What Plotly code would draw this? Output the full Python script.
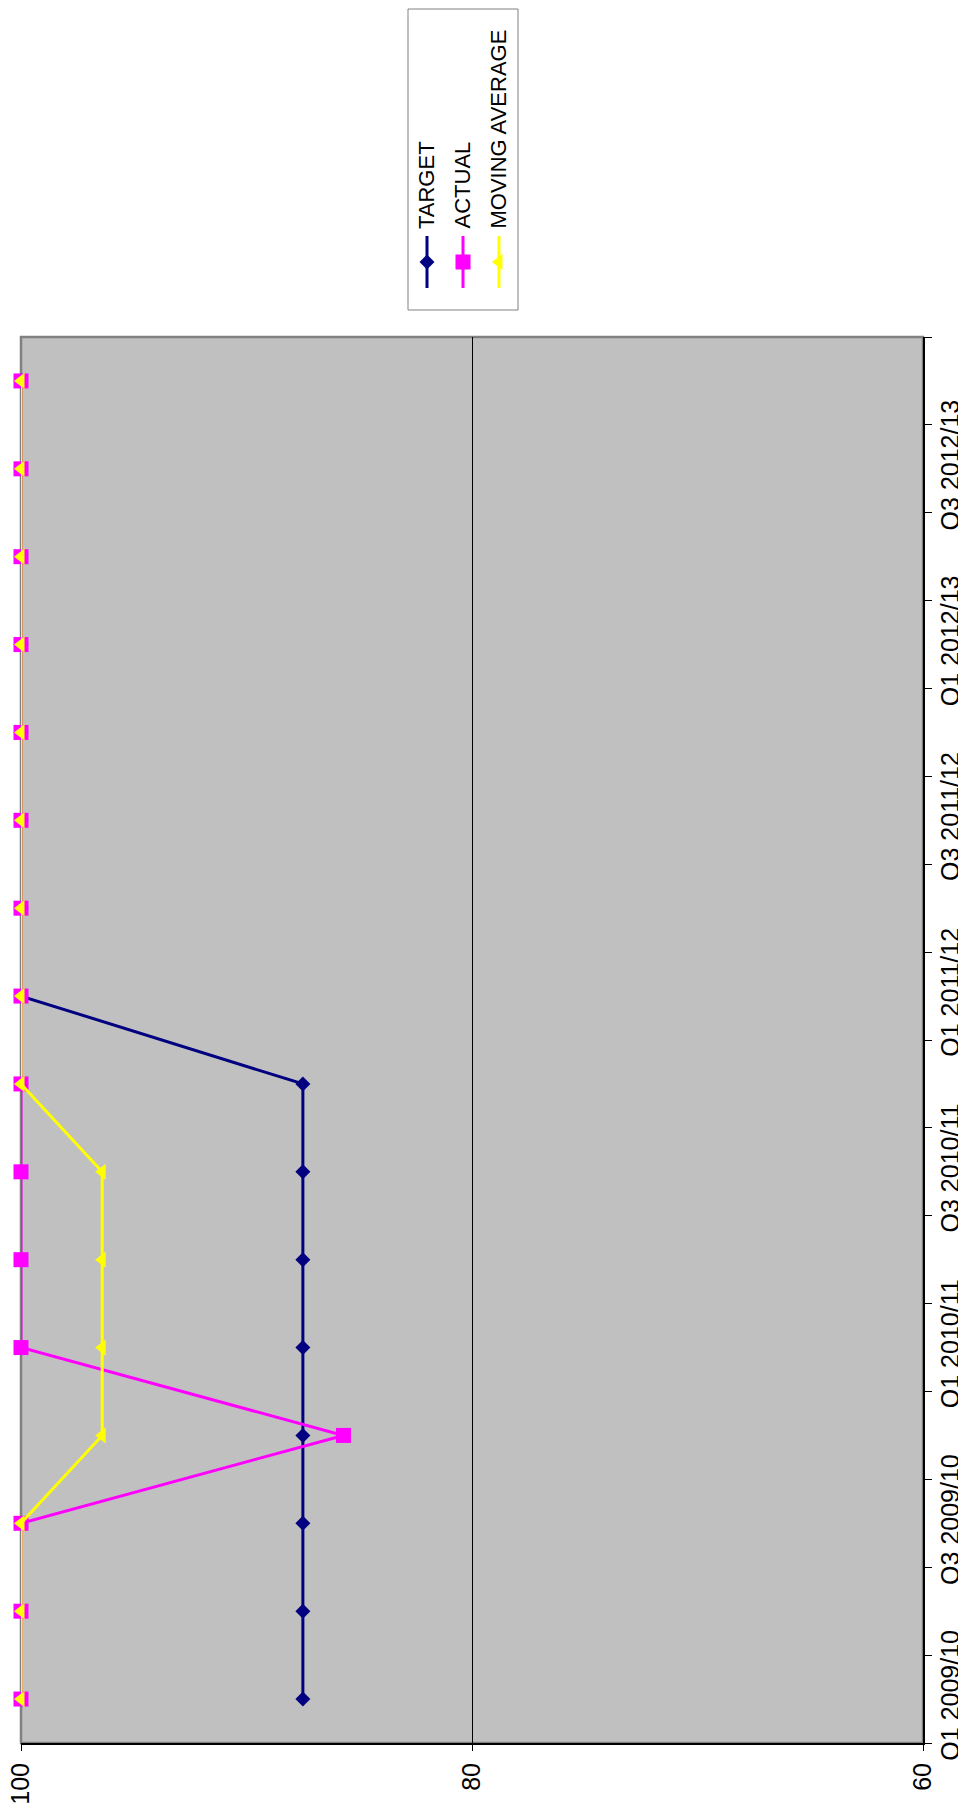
import plotly.graph_objects as go

# ---------------- data ----------------
categories = ["Q1 2009/10", "Q2 2009/10", "Q3 2009/10", "Q4 2009/10",
              "Q1 2010/11", "Q2 2010/11", "Q3 2010/11", "Q4 2010/11",
              "Q1 2011/12", "Q2 2011/12", "Q3 2011/12", "Q4 2011/12",
              "Q1 2012/13", "Q2 2012/13", "Q3 2012/13", "Q4 2012/13"]
shown_labels = ["Q1 2009/10", "Q3 2009/10", "Q1 2010/11", "Q3 2010/11",
                "Q1 2011/12", "Q3 2011/12", "Q1 2012/13", "Q3 2012/13"]
target = [87.5, 87.5, 87.5, 87.5, 87.5, 87.5, 87.5, 87.5,
          100, 100, 100, 100, 100, 100, 100, 100]
actual = [100, 100, 100, 85.7, 100, 100, 100, 100,
          100, 100, 100, 100, 100, 100, 100, 100]
moving_average = [100, 100, 100, 96.4, 96.4, 96.4, 96.4, 100,
                  100, 100, 100, 100, 100, 100, 100, 100]
value_ticks = [60, 80, 100]
grid_values = [80]
series_names = ["TARGET", "ACTUAL", "MOVING AVERAGE"]

# ---------------- style ----------------
OFF = 8                      # page body margin
W, H = 966 - 2 * OFF, 1805 - OFF
FONT = "Arial, Liberation Sans, sans-serif"
colors = ["#000080", "#FF00FF", "#FFFF00"]
symbols = ["diamond", "square", "triangle-left"]
msizes = [11.5, 15, 14]

# plot area in window pixels
PL, PR, PT, PB = 21, 923, 337, 1743

def px(x):
    return (x - OFF) / W

def py(y):
    return 1 - (y - OFF) / H

fig = go.Figure()
for vals, name, c, s, ms in zip([target, actual, moving_average], series_names, colors, symbols, msizes):
    fig.add_trace(go.Scatter(
        x=vals, y=categories, mode="lines+markers", name=name,
        line=dict(color=c, width=3),
        marker=dict(symbol=s, size=ms, color=c, line=dict(width=0)),
        cliponaxis=False, showlegend=False,
        xaxis="x", yaxis="y"))

# ---------- custom rotated legend ----------
LX0, LX1, LY0, LY1 = 408, 518, 9, 310
leg_x = [427, 463, 499]
for name, c, s, ms, lx in zip(series_names, colors, symbols, msizes, leg_x):
    fig.add_trace(go.Scatter(x=[lx, lx], y=[236, 288], mode="lines",
                             line=dict(color=c, width=3), showlegend=False,
                             xaxis="x2", yaxis="y2", hoverinfo="skip"))
    fig.add_trace(go.Scatter(x=[lx], y=[262], mode="markers",
                             marker=dict(symbol=s, size=ms, color=c, line=dict(width=0)),
                             showlegend=False, xaxis="x2", yaxis="y2",
                             hoverinfo="skip", cliponaxis=False))

annotations = []
for name, lx in zip(series_names, leg_x):
    annotations.append(dict(
        text=name, textangle=-90, xref="paper", yref="paper",
        x=px(lx - 1), y=py(231), xanchor="center", yanchor="bottom",
        showarrow=False, font=dict(family=FONT, size=22, color="black")))

shapes = [
    # gray plot-area border
    dict(type="rect", xref="x domain", yref="y domain", x0=0, x1=1, y0=0, y1=1,
         line=dict(color="#808080", width=2.5), layer="below"),
    # legend box
    dict(type="rect", xref="x2 domain", yref="y2 domain", x0=0, x1=1, y0=0, y1=1,
         line=dict(color="#808080", width=1), fillcolor="white", layer="below"),
]

ticktext = [c if c in shown_labels else "" for c in categories]

fig.update_layout(
    width=W, height=H,
    margin=dict(l=0, r=0, t=0, b=0, pad=0),
    paper_bgcolor="white",
    plot_bgcolor="#C0C0C0",
    font=dict(family=FONT, color="black"),
    showlegend=False,
    xaxis=dict(
        domain=[px(PL), px(PR)], range=[100, 60],
        tickvals=value_ticks, tickangle=-90,
        ticks="outside", ticklen=6, tickcolor="black", tickwidth=1,
        showline=True, linecolor="black", linewidth=2,
        showgrid=False, zeroline=False,
        minor=dict(tickvals=grid_values, showgrid=True, gridcolor="black",
                   gridwidth=1, ticks=""),
        tickfont=dict(family=FONT, size=25, color="black"),
        ticklabelstandoff=2, ticklabeloverflow="allow",
        anchor="y", fixedrange=True, automargin=False),
    yaxis=dict(
        domain=[py(PB), py(PT)], type="category",
        categoryorder="array", categoryarray=categories,
        range=[-0.5, len(categories) - 0.5],
        tickvals=categories, ticktext=ticktext, tickangle=-90,
        side="right", tickson="boundaries",
        ticks="outside", ticklen=7, tickcolor="black", tickwidth=1,
        showline=True, linecolor="black", linewidth=2,
        showgrid=False, zeroline=False,
        tickfont=dict(family=FONT, size=25, color="black"),
        ticklabelstandoff=4, ticklabeloverflow="allow",
        anchor="x", fixedrange=True, automargin=False),
    xaxis2=dict(domain=[px(LX0), px(LX1)], range=[LX0, LX1], visible=False,
                anchor="y2", fixedrange=True),
    yaxis2=dict(domain=[py(LY1), py(LY0)], range=[LY1, LY0], visible=False,
                anchor="x2", fixedrange=True),
    shapes=shapes,
    annotations=annotations,
)

fig.write_html("out.html")
